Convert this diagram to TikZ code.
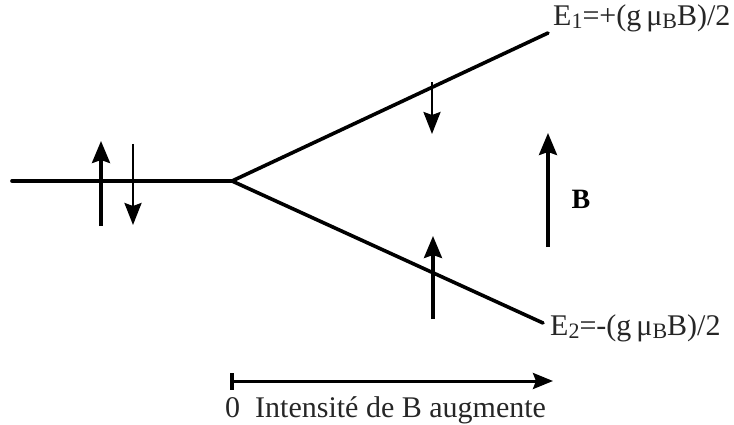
\documentclass[tikz,border=0pt]{standalone}
\usepackage{fontspec}
\setmainfont{Liberation Serif}
\usetikzlibrary{arrows.meta}
\newcommand{\sbx}[1]{\raisebox{-0.12em}{\fontsize{22}{24}\selectfont #1}}
\begin{document}
\begin{tikzpicture}[x=1pt,y=-1pt,
  level/.style={line width=3.6pt},
  spinup/.style={line width=3.4pt,-{Stealth[length=22pt,width=18pt,inset=3pt]}},
  spindn/.style={line width=2.6pt,-{Stealth[length=22pt,width=17pt,inset=3pt]}},
  lbl/.style={inner sep=0pt,anchor=west,font=\fontsize{30}{34}\selectfont,text=black!85}]
\useasboundingbox (0,0) rectangle (734,425);
% level points
\coordinate (L) at (12,181);
\coordinate (O) at (232,181);
\coordinate (U) at (548,33);
\coordinate (D) at (543,323);
\draw[level,line cap=round] (L) -- (O);
\draw[level,line cap=round] (O) -- (U);
\draw[level,line cap=round] (O) -- (D);
% spins on degenerate level
\coordinate (a1s) at (101,226); \coordinate (a1e) at (101,141);
\coordinate (a2s) at (133,144); \coordinate (a2e) at (133,225);
\draw[spinup] (a1s) -- (a1e);
\draw[spindn] (a2s) -- (a2e);
% spins on split levels
\coordinate (a3s) at (432,82); \coordinate (a3e) at (432,134);
\coordinate (a4s) at (433,319); \coordinate (a4e) at (433,236);
\draw[spindn] (a3s) -- (a3e);
\draw[spinup] (a4s) -- (a4e);
% B field arrow
\coordinate (bs) at (548,247); \coordinate (be) at (548,133);
\draw[spinup] (bs) -- (be);
\node[inner sep=0pt,font=\fontsize{28}{32}\selectfont\bfseries] (Bl) at (581,199) {B};
% energy labels
\node[lbl] (E1) at (553,18) {E\sbx{1}=+(g\,μ\sbx{B}B)/2};
\node[lbl] (E2) at (550,328) {E\sbx{2}=-(g\,μ\sbx{B}B)/2};
% axis
\coordinate (t1) at (232,373); \coordinate (t2) at (232,390);
\coordinate (ax0) at (232,381); \coordinate (ax1) at (553,381);
\draw[line width=4pt] (t1) -- (t2);
\draw[line width=3pt,-{Stealth[length=20pt,width=16pt,inset=3pt]}] (ax0) -- (ax1);
\node[lbl] (ax) at (225,410) {0 \ Intensité de B augmente};
\end{tikzpicture}
\end{document}
